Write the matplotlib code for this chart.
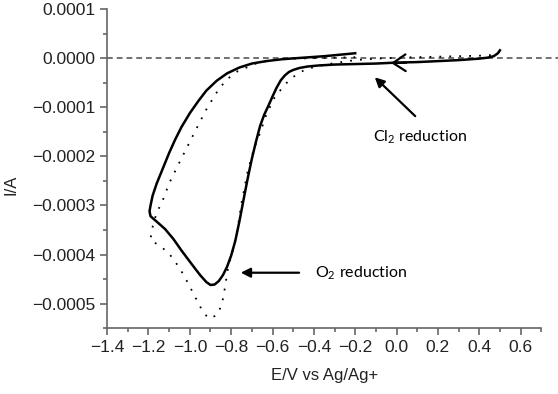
import matplotlib
matplotlib.use('Agg')
import matplotlib.pyplot as plt
from matplotlib.ticker import MultipleLocator, FuncFormatter

plt.rcParams['font.family'] = ['Liberation Sans', 'DejaVu Sans']
plt.rcParams['mathtext.fontset'] = 'custom'
plt.rcParams['mathtext.rm'] = 'Lato'

# solid CV (E in V, I in 1e-4 A): cathodic scan from 0.5 V, then back
solid_E = [0.50, 0.49, 0.47, 0.44, 0.40, 0.30, 0.20, 0.10, 0.00, -0.10,
           -0.20, -0.30, -0.38, -0.43, -0.47, -0.50, -0.52, -0.54, -0.56,
           -0.58, -0.60, -0.62, -0.64, -0.66, -0.68, -0.70, -0.72, -0.74,
           -0.76, -0.78, -0.80, -0.82, -0.84, -0.86, -0.88, -0.90, -0.92,
           -0.95, -0.99, -1.04, -1.08, -1.12, -1.16, -1.19,
           -1.195, -1.19, -1.18, -1.16, -1.13, -1.10, -1.07, -1.04, -1.00,
           -0.96, -0.92, -0.87, -0.82, -0.76, -0.70, -0.63, -0.55, -0.45,
           -0.35, -0.25, -0.20]
solid_I = [0.16, 0.10, 0.04, 0.01, -0.01, -0.04, -0.06, -0.08, -0.09, -0.11,
           -0.12, -0.13, -0.15, -0.17, -0.20, -0.24, -0.28, -0.35, -0.45,
           -0.60, -0.78, -0.97, -1.15, -1.38, -1.70, -2.05, -2.45, -2.88,
           -3.32, -3.72, -4.02, -4.25, -4.42, -4.54, -4.61, -4.62, -4.56,
           -4.42, -4.20, -3.92, -3.68, -3.48, -3.33, -3.22,
           -3.12, -3.00, -2.80, -2.55, -2.24, -1.93, -1.65, -1.40, -1.12,
           -0.88, -0.66, -0.46, -0.31, -0.19, -0.11, -0.06, -0.02, 0.01,
           0.04, 0.08, 0.10]

# dotted CV
dot_E = [0.50, 0.48, 0.45, 0.40, 0.30, 0.20, 0.10, 0.00, -0.10, -0.20,
         -0.30, -0.38, -0.44, -0.48, -0.52, -0.55, -0.59, -0.63, -0.66,
         -0.69, -0.72, -0.75, -0.77, -0.79, -0.815, -0.83, -0.845, -0.87,
         -0.91, -0.94, -0.965, -1.01, -1.05, -1.10, -1.145, -1.19,
         -1.185, -1.16, -1.135, -1.10, -1.057, -1.014, -0.965, -0.917,
         -0.86, -0.82, -0.77, -0.72, -0.67, -0.60, -0.50, -0.40, -0.30, -0.20]
dot_I = [0.14, 0.09, 0.06, 0.05, 0.04, 0.03, 0.02, 0.01, -0.01, -0.04,
         -0.10, -0.16, -0.23, -0.32, -0.45, -0.59, -0.80, -1.15, -1.52,
         -1.85, -2.30, -2.95, -3.50, -3.88, -4.27, -4.67, -5.02, -5.24,
         -5.30, -5.14, -4.94, -4.57, -4.27, -3.98, -3.82, -3.71,
         -3.51, -3.14, -2.94, -2.55, -2.18, -1.82, -1.41, -1.02,
         -0.63, -0.43, -0.27, -0.18, -0.09, -0.04, -0.01, 0.00, 0.01, 0.02]

scale = 1e-4

fig = plt.figure(figsize=(5.58, 3.94), dpi=100)
ax = fig.add_axes([0.192, 0.167, 0.778, 0.81])

# zero line
ax.plot([-1.4, 0.78], [0, 0], color='#666666', lw=1.3,
        linestyle=(0, (3.2, 2.2)), clip_on=False, zorder=1)

ax.plot(dot_E, [v * scale for v in dot_I], color='black', lw=1.3,
        linestyle=(0, (1, 4.5)), zorder=2)
ax.plot(solid_E, [v * scale for v in solid_I], color='black', lw=1.8,
        zorder=3, solid_joinstyle='round')

# scan direction arrowhead
ax.annotate('', xy=(-0.04, -0.0000100), xytext=(0.06, -0.0000092),
            arrowprops=dict(arrowstyle='->,head_length=0.45,head_width=0.3',
                            color='black', lw=1.6, mutation_scale=20))

# labels with arrows
ax.annotate('', xy=(-0.115, -0.000035), xytext=(0.10, -0.000122),
            arrowprops=dict(arrowstyle='-|>', color='black', lw=1.6,
                            mutation_scale=14))
ax.text(0.112, -0.000161, r'Cl$_\mathrm{2}$ reduction', family='Lato',
        fontsize=11.5, ha='center', va='center')

ax.annotate('', xy=(-0.767, -0.000437), xytext=(-0.458, -0.000437),
            arrowprops=dict(arrowstyle='-|>', color='black', lw=1.6,
                            mutation_scale=14))
ax.text(-0.395, -0.000437, r'O$_\mathrm{2}$ reduction', family='Lato',
        fontsize=11.5, ha='left', va='center')

ax.set_xlim(-1.4, 0.7)
ax.set_ylim(-0.00055, 0.0001)
ax.xaxis.set_major_locator(MultipleLocator(0.2))
ax.xaxis.set_minor_locator(MultipleLocator(0.1))
ax.yaxis.set_major_locator(MultipleLocator(0.0001))
ax.yaxis.set_minor_locator(MultipleLocator(0.00005))
ax.xaxis.set_major_formatter(FuncFormatter(lambda v, p: ('%.1f' % v).replace('-', '\u2212')))
ax.yaxis.set_major_formatter(FuncFormatter(lambda v, p: ('%.4f' % (0 if abs(v) < 1e-12 else v)).replace('-', '\u2212')))

for s in ['top', 'right']:
    ax.spines[s].set_visible(False)
for s in ['left', 'bottom']:
    ax.spines[s].set_color('#666666')
    ax.spines[s].set_linewidth(1.2)
ax.tick_params(which='both', direction='out', color='#666666', width=1.2,
               labelsize=12.5, labelcolor='#222222')
ax.tick_params(which='major', length=5)
ax.tick_params(which='minor', length=3)

ax.set_xlabel('E/V vs Ag/Ag+', fontsize=12, color='#222222', labelpad=9)
ax.set_ylabel('I/A', fontsize=12, color='#222222')
ax.yaxis.set_label_coords(-0.205, 0.45)

fig.savefig('out.png', dpi=100)
